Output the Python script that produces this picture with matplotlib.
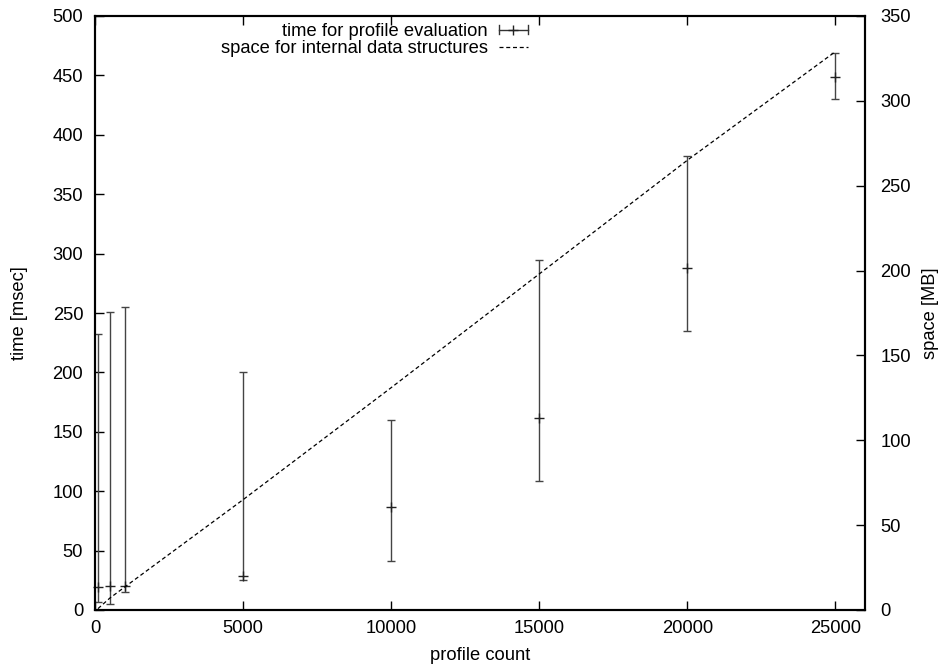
import matplotlib
matplotlib.use("Agg")
import matplotlib.pyplot as plt
from matplotlib.lines import Line2D
from matplotlib.legend_handler import HandlerBase

plt.rcParams['font.family'] = ['Liberation Sans', 'DejaVu Sans']

# data
profile_count = [100, 500, 1000, 5000, 10000, 15000, 20000, 25000]
time_mean = [19, 20, 20, 29, 87, 162, 288, 449]
time_low = [6.5, 5, 15, 25, 41, 109, 235, 430]
time_high = [232, 251, 255, 200, 160, 295, 382, 469]
space_mb = [0.8, 7, 13.5, 65, 131, 198, 265, 329]

x_ticks = [0, 5000, 10000, 15000, 20000, 25000]
y_ticks = list(range(0, 501, 50))
y2_ticks = list(range(0, 351, 50))

W, H = 952, 669
fig = plt.figure(figsize=(W / 100, H / 100), dpi=100)
ax = fig.add_axes([95 / W, 1 - 610 / H, (865 - 95) / W, (610 - 16) / H])
ax2 = ax.twinx()

fs = 13.2
err_lo = [m - l for m, l in zip(time_mean, time_low)]
err_hi = [h - m for m, h in zip(time_mean, time_high)]
eb = ax.errorbar(profile_count, time_mean, yerr=[err_lo, err_hi], fmt='+',
                 color='#222222', ecolor='#444444', elinewidth=1.0, capsize=3.2,
                 capthick=1.0, markersize=6.5, markeredgewidth=1.0, clip_on=False,
                 zorder=3)
line, = ax2.plot(profile_count, space_mb, color='black', lw=0.9,
                 linestyle=(0, (3.2, 2.2)), zorder=2)

ax.set_xlim(0, 26000)
ax.set_ylim(0, 500)
ax2.set_ylim(0, 350)
ax.set_xticks(x_ticks)
ax.set_yticks(y_ticks)
ax2.set_yticks(y2_ticks)

for a in (ax, ax2):
    for s in a.spines.values():
        s.set_linewidth(1.5)
ax.tick_params(axis='x', direction='in', length=6.5, width=1.0, top=True,
               labelsize=fs, pad=7)
ax.tick_params(axis='y', direction='in', length=6.5, width=1.0, right=False,
               labelsize=fs, pad=8.5)
ax2.tick_params(axis='y', direction='in', length=6.5, width=1.0,
                labelsize=fs, pad=11)

ax.set_xlabel('profile count', fontsize=fs, va='center')
ax.xaxis.set_label_coords(0.5, (610 - 655) / 594)
ax.set_ylabel('time [msec]', fontsize=fs, va='center')
ax.yaxis.set_label_coords((20 - 95) / 770, 0.5)
ax2.set_ylabel('space [MB]', fontsize=fs, va='center', rotation=90)
ax2.yaxis.set_label_coords((930 - 95) / 770, 0.5)


class ErrHandler(HandlerBase):
    def create_artists(self, legend, orig_handle, xdescent, ydescent,
                       width, height, fontsize, trans):
        y = height / 2 - ydescent
        x0, x1 = -xdescent, -xdescent + width
        c = 3.0
        arts = [
            Line2D([x0, x1], [y, y], color='#333333', lw=1.0),
            Line2D([x0, x0], [y - c, y + c], color='#333333', lw=1.0),
            Line2D([x1, x1], [y - c, y + c], color='#333333', lw=1.0),
            Line2D([(x0 + x1) / 2], [y], marker='+', color='#222222',
                   markersize=6.5, markeredgewidth=1.0, linestyle='none'),
        ]
        for a in arts:
            a.set_transform(trans)
        return arts


dummy = Line2D([], [])
leg = fig.legend([dummy, line],
                 ['time for profile evaluation', 'space for internal data structures'],
                 handler_map={dummy: ErrHandler()},
                 loc='upper right', bbox_to_anchor=(528 / W, 1 - 23 / H),
                 frameon=False, markerfirst=False, fontsize=fs,
                 handlelength=1.6, handletextpad=0.6, labelspacing=0.0,
                 borderpad=0, borderaxespad=0)

fig.savefig('out.png', dpi=100)
